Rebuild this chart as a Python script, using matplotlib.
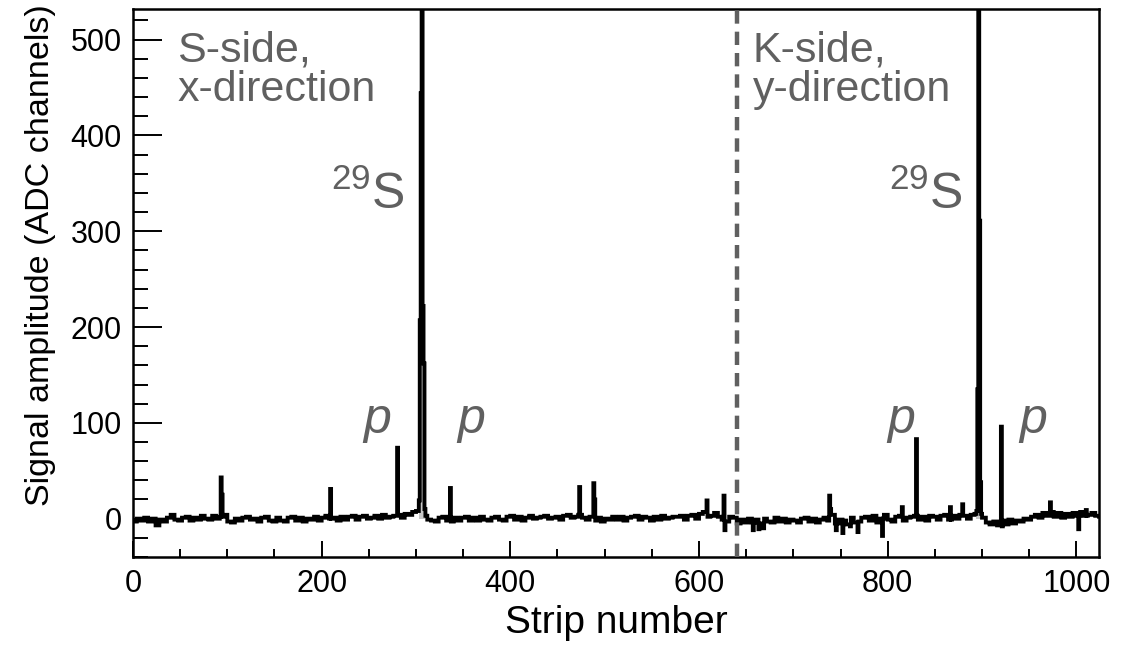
import numpy as np
import matplotlib
matplotlib.use("Agg")
import matplotlib.pyplot as plt
from matplotlib.ticker import MultipleLocator

# ── Data ───────────────────────────────────────────────────────────────────────

N_STRIPS = 1024
BIN = 4  # baseline is given in groups of 4 strips

# baseline amplitude, one value per 4 strips (256 values)
baseline = [
    -3, 0, -2, 1, -3, 0, -7, -1, -3, 1, 4, -1, -2, 1, 2, -2,
    1, -1, 3, 0, -1, 3, 0, 2, 4, -3, -4, 0, -2, 1, 2, -1,
    0, -3, 1, 2, -2, -3, 1, -2, -3, 1, 2, -2, 1, -3, 0, -1,
    2, -2, 1, 3, 0, 1, -2, 2, -1, 2, 3, -1, 2, 3, 0, 1,
    3, 0, 4, 1, 2, 3, 4, 1, 5, 4, 7, 8, 8, 3, -1, -2,
    -3, 1, 2, -2, -3, 1, -2, 1, 2, -2, 1, -2, 2, -1, -2, 1,
    2, -1, -2, 2, 3, -1, 2, -2, 1, 3, 0, 1, 2, 3, 0, 1,
    2, -1, 3, 4, 1, 2, 4, 1, -1, 2, -2, 1, -3, 0, -1, 2,
    -1, 2, -2, 1, 2, 3, -1, 2, 1, -2, 2, -1, 3, 0, 1, 2,
    2, 3, -1, 3, 4, 0, 5, 7, 2, 3, 6, 2, -1, -3, 2, 1,
    -5, -1, -4, 0, -4, -1, -5, 0, -3, -4, 1, -3, 0, -4, -1, -2,
    -4, 0, 1, -3, 0, -4, -1, 1, -2, 4, -5, -1, -2, -6, 1, -4,
    -3, 1, 2, -2, 3, -4, 0, 4, -1, -3, 2, 3, -2, 1, 2, 3,
    -1, 2, -2, 3, 2, -1, 3, 4, -1, 3, 0, 4, 3, 0, 4, 5,
    5, 1, -4, -6, -3, -7, -2, -6, -1, -5, -2, -3, 0, -1, 2, 4,
    1, 6, 3, 7, 2, 6, 1, 5, 2, 6, 3, 7, 3, 4, 6, 3,
]

# single strips that stand out of the baseline: S-side
s_spike_strips = [93, 94, 209, 280, 303, 304, 305, 306, 307, 308, 309, 336,
                  473, 488, 489, 608, 626, 627]
s_spike_values = [43, 25, 31, 74, 19, 207, 444, 600, 222, 162, 10, 32,
                  33, 37, 20, 19, 24, -12]

# K-side
k_spike_strips = [657, 663, 668, 738, 739, 745, 752, 760, 768, 794, 815, 830,
                  866, 879, 894, 895, 896, 897, 898, 920, 921, 972, 1002, 1010]
k_spike_values = [-12, -11, -10, 24, 10, -12, -15, -8, -14, -18, 12, 83,
                  12, 15, 8, 135, 600, 311, 38, 96, -8, 17, -11, 9]

# strips filled in gray under the 29S peaks
s_fill_range = (303, 310)
k_fill_range = (894, 899)

DIVIDER = 640

# ── Build histogram ────────────────────────────────────────────────────────────

amp = np.repeat(np.array(baseline, dtype=float), BIN)
for s, v in zip(s_spike_strips + k_spike_strips, s_spike_values + k_spike_values):
    amp[s] = v
edges = np.arange(N_STRIPS + 1)

# ── Plot ───────────────────────────────────────────────────────────────────────

plt.rcParams["font.family"] = ["Liberation Sans", "DejaVu Sans"]
plt.rcParams["mathtext.fontset"] = "custom"
plt.rcParams["mathtext.rm"] = "Liberation Sans"
plt.rcParams["mathtext.it"] = "Liberation Sans:italic"
GRAY = "#606060"

fig = plt.figure(figsize=(11.21, 6.46), dpi=100)
ax = fig.add_axes([0.1186, 0.1378, 0.8618, 0.8483])

for lo, hi in (s_fill_range, k_fill_range):
    ax.stairs(amp[lo:hi], edges[lo:hi + 1], fill=True, color="#c8c8c8", zorder=1)
ax.stairs(amp, edges, color="black", linewidth=2.8, zorder=2)

ax.axvline(DIVIDER, color=GRAY, linewidth=3.2, linestyle=(0, (3, 1.8)), zorder=3)

ax.set_xlim(0, N_STRIPS)
ax.set_ylim(-40, 532)

ax.xaxis.set_major_locator(MultipleLocator(200))
ax.xaxis.set_minor_locator(MultipleLocator(50))
ax.yaxis.set_major_locator(MultipleLocator(100))
ax.yaxis.set_minor_locator(MultipleLocator(20))
ax.tick_params(axis="x", which="major", direction="in", length=11.5, width=1.4,
               labelsize=22, pad=9, top=False)
ax.tick_params(axis="x", which="minor", direction="in", length=5.8, width=1.4, top=False)
ax.tick_params(axis="y", which="major", direction="in", length=21, width=1.4,
               labelsize=22, pad=8, right=False)
ax.tick_params(axis="y", which="minor", direction="in", length=10.8, width=1.4, right=False)
for spine in ax.spines.values():
    spine.set_linewidth(1.8)

ax.set_xlabel("Strip number", fontsize=28, labelpad=4)
ax.set_ylabel("Signal amplitude (ADC channels)", fontsize=24.5)
ax.yaxis.set_label_coords(-0.08, 0.551)

ax.text(47, 510, "S-side,\nx-direction", color=GRAY, fontsize=31,
        va="top", ha="left", linespacing=1.0)
ax.text(657, 510, "K-side,\ny-direction", color=GRAY, fontsize=31,
        va="top", ha="left", linespacing=1.0)
ax.text(288, 338, r"$^{29}$S", color=GRAY, fontsize=36, ha="right", va="center")
ax.text(880, 338, r"$^{29}$S", color=GRAY, fontsize=36, ha="right", va="center")

for xp in (259, 358, 814, 954):
    ax.text(xp, 103, "p", color=GRAY, fontsize=36, style="italic",
            ha="center", va="center")

fig.savefig("out.png", dpi=100)
